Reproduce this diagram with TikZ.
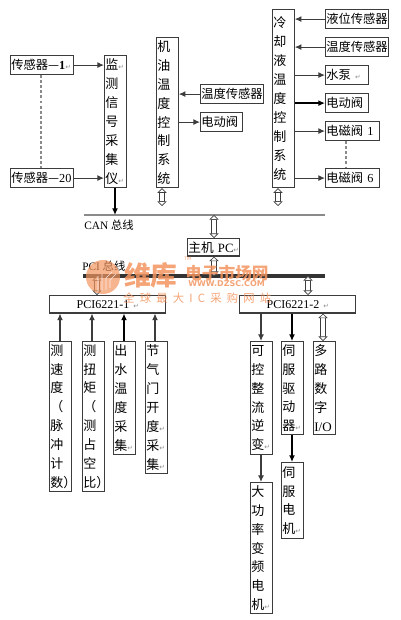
\documentclass[tikz,border=0pt]{standalone}
\usepackage{fontspec}
\setmainfont{Liberation Serif}
\newfontfamily\cjk{Noto Sans CJK SC}
\newfontfamily\lat{Liberation Serif}
\newfontfamily\sym{DejaVu Sans}
\usetikzlibrary{positioning,arrows.meta,calc}
\definecolor{linegray}{HTML}{3C3C3C}
\definecolor{markgray}{HTML}{8A8A8A}
\definecolor{wmorange}{HTML}{F2945F}
\newcommand{\ret}{{\sym\fontsize{5}{5}\selectfont\textcolor{markgray}{↵}}}
\newcommand{\rret}{\rlap{\ret}}
\tikzset{
  basebox/.style={draw=linegray, line width=0.9pt, anchor=north west, inner sep=0.6pt, font=\cjk\fontsize{9.75}{14.2}\selectfont},
  hbox/.style={basebox, text width=#1, align=left, minimum height=14.25pt, font=\cjk\fontsize{9.2}{11}\selectfont},
  vbox/.style={basebox, text width=15pt, align=left, minimum height=#1},
  cbox/.style={basebox, text width=#1, align=center, minimum height=13pt},
  link/.style={draw=linegray, line width=0.8pt, -{Latex[length=5pt,width=4.5pt]}},
  heavy/.style={link, draw=black, line width=1.2pt},
  hollow/.style={draw=white, line width=2.6pt, {Triangle[open,length=3.5pt,width=7pt,line width=0.5pt,color=linegray,fill=white]}-{Triangle[open,length=3.5pt,width=7pt,line width=0.5pt,color=linegray,fill=white]},
    preaction={draw=linegray, line width=3.8pt, -, shorten >=3.2pt, shorten <=3.2pt}},
  bus/.style={draw=markgray, line width=1.6pt},
  dots/.style={draw=markgray, line width=0.9pt, dash pattern=on 2.2pt off 1.6pt},
  wmark/.style={text=wmorange, opacity=0.85, inner sep=0pt},
}
\begin{document}
\begin{tikzpicture}[x=0.75pt,y=-0.75pt]
\useasboundingbox (0,0) rectangle (400,620);
% sensors and monitor
\node[hbox=46pt] (sensA) at (10,55) {\mbox{传感器—{\lat\bfseries 1}\ret}};
\node[hbox=46pt] (sensB) at (10,168) {\mbox{传感器—{\lat 20}}};
\node[vbox=99pt] (monitor) at (104,55) {监\rret\\测\\信\\号\\采\\集\\仪\rret};
% oil system
\node[vbox=112.5pt] (oil) at (156,37) {机\\油\\温\\度\\控\\制\\系\\统};
\node[hbox=46pt] (oilTemp) at (200,84) {温度传感器};
\node[hbox=30pt] (oilValve) at (200,112) {电动阀};
% coolant system
\node[vbox=133.5pt] (cool) at (272,9) {冷\\却\\液\\温\\度\\控\\制\\系\\统};
\node[hbox=46pt] (level) at (325,9) {液位传感器};
\node[hbox=46pt] (coolTemp) at (325,37) {温度传感器};
\node[hbox=31pt] (pump) at (325,65) {水泵\ \ret};
\node[hbox=31pt] (coolValve) at (325,93) {电动阀};
\node[hbox=39pt] (magA) at (325,121) {电磁阀{\lat\ 1}};
\node[hbox=39pt] (magB) at (325,168) {电磁阀{\lat\ 6}};
% buses
\coordinate (canL) at (84,215);
\coordinate (canR) at (325,215);
\coordinate (pciL) at (83,276);
\coordinate (pciR) at (325,276);
\draw[bus] (canL) -- (canR);
\draw[bus, draw=black!80, line width=2.4pt] (pciL) -- (pciR);
\node[anchor=west, inner sep=0pt, font=\lat\fontsize{8.5}{10}\selectfont] (canText) at (84,225) {CAN {\cjk 总线}};
\node[anchor=west, inner sep=0pt, font=\lat\fontsize{8.5}{10}\selectfont] (pciText) at (82,266) {PCI {\cjk 总线}};
\node[cbox=38pt, font=\lat\fontsize{9.5}{12}\selectfont] (host) at (187,238) {{\cjk 主机} PC\ret};
\node[cbox=86pt, font=\lat\fontsize{9}{12}\selectfont] (cardA) at (49,295) {PCI6221-1\ \ret\hspace{8pt}};
\node[cbox=86pt, font=\lat\fontsize{9}{12}\selectfont] (cardB) at (239,295) {PCI6221-2\ \ret};
% lower left
\node[vbox=112.5pt] (speed) at (49,341) {测\\速\\度\\（\\脉\\冲\\计\\数\rlap{）}};
\node[vbox=112.5pt] (torque) at (82,341) {测\\扭\\矩\\（\\测\\占\\空\\比\rlap{）}};
\node[vbox=84.75pt] (water) at (113,341) {出\\水\\温\\度\\采\\集\rret};
\node[vbox=99pt] (throttle) at (145,341) {节\\气\\门\\开\\度\rret\\采\rret\\集\rret};
% lower right
\node[vbox=84.75pt] (rect) at (250,341) {可\\控\\整\\流\\逆\\变\rret};
\node[vbox=69.75pt] (drive) at (281,341) {伺\\服\\驱\\动\\器\rret};
\node[vbox=69.75pt] (dio) at (313,341) {多\\路\\数\\字\\{\lat I/O}};
\node[vbox=98.25pt] (motorA) at (250,482) {大\\功\\率\\变\\频\\电\\机\rret};
\node[vbox=57pt] (motorB) at (281,462) {伺\\服\\电\\机\rret};
% connectors
\draw[link] (sensA) -- (sensA -| monitor.west);
\draw[link] (sensB) -- (sensB -| monitor.west);
\draw[dots] (sensA.south -| 41,0) -- (sensB.north -| 41,0);
\draw[heavy] (monitor.south -| 115,0) -- (canL -| 115,0);
\draw[link] (oilTemp) -- (oilTemp -| oil.east);
\draw[link] (oilValve -| oil.east) -- (oilValve);
\draw[link] (level) -- (level -| cool.east);
\draw[link] (coolTemp) -- (coolTemp -| cool.east);
\draw[link] (pump -| cool.east) -- (pump);
\draw[heavy] (coolValve -| cool.east) -- (coolValve);
\draw[link] (magA -| cool.east) -- (magA);
\draw[link] (magB -| cool.east) -- (magB);
\draw[dots] (magA.south -| 346,0) -- (magB.north -| 346,0);
\draw[hollow] (oil.south -| 162,0) -- (162,206);
\draw[hollow] (cool.south -| 278,0) -- (278,206);
\draw[hollow] (host.north -| 214,0) -- (canR -| 214,0);
\draw[hollow] (host.south -| 214,0) -- (pciR -| 214,0);
\draw[hollow] (pciL -| 97,0) -- (cardA.north -| 97,0);
\draw[hollow] (pciL -| 308,0) -- (cardB.north -| 308,0);
\draw[link] (speed.north -| 60,0) -- (cardA.south -| 60,0);
\draw[link] (torque.north -| 92,0) -- (cardA.south -| 92,0);
\draw[heavy] (water.north -| 124,0) -- (cardA.south -| 124,0);
\draw[link] (throttle.north -| 155,0) -- (cardA.south -| 155,0);
\draw[link] (cardB.south -| 261,0) -- (rect.north -| 261,0);
\draw[heavy] (cardB.south -| 292,0) -- (drive.north -| 292,0);
\draw[hollow] (cardB.south -| 323,0) -- (dio.north -| 323,0);
\draw[link] (rect.south -| 261,0) -- (motorA.north -| 261,0);
\draw[heavy] (drive.south -| 292,0) -- (motorB.north -| 292,0);
% site mark
\fill[wmorange, opacity=0.7] (103,277) circle (17);
\draw[white, line width=0.5pt, opacity=0.8] (98,291) -- (98,276) (102,291) -- (102,274) (106,290) -- (106,278) -- (112,272) (110,288) -- (110,280) -- (116,274);
\node[wmark, anchor=west, font=\cjk\bfseries\fontsize{20}{22}\selectfont] (wmName) at (124,275) {维库};
\node[wmark, anchor=west, font=\cjk\bfseries\fontsize{12.5}{14}\selectfont] (wmMarket) at (185,273) {电子市场网};
\node[wmark, anchor=west, font=\sym\fontsize{3.5}{4}\selectfont] (wmTm) at (184,259) {TM};
\node[wmark, anchor=west, font=\sym\bfseries\fontsize{6}{7}\selectfont] (wmUrl) at (188,284) {WWW.DZSC.COM};
\node[wmark, anchor=west, font=\cjk\fontsize{8.5}{10}\selectfont] (wmSlogan) at (123,298) {\makebox[111pt][s]{全\hfill 球\hfill 最\hfill 大\hfill I\hfill C\hfill 采\hfill 购\hfill 网\hfill 站}};
\end{tikzpicture}
\end{document}
